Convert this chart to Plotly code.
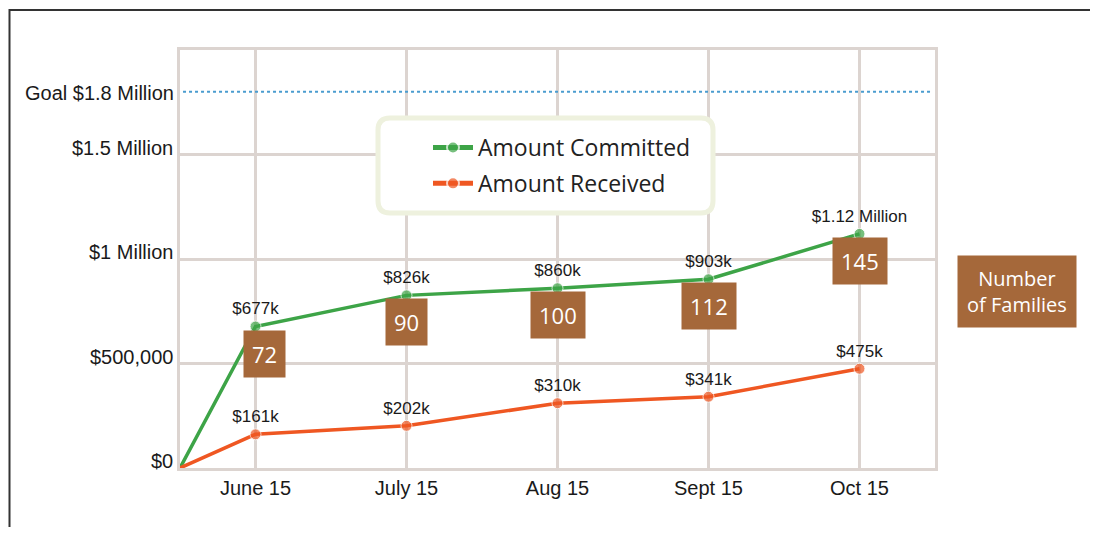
import plotly.graph_objects as go

# ---- data ----
dates = ["June 15", "July 15", "Aug 15", "Sept 15", "Oct 15"]
committed = [677000, 826000, 860000, 903000, 1120000]
received = [161000, 202000, 310000, 341000, 475000]
families = [72, 90, 100, 112, 145]
goal = 1800000
y_ticks = [0, 500000, 1000000, 1500000]
y_tick_text = ["$0", "$500,000", "$1 Million", "$1.5 Million"]

GREEN = "#3da447"
ORANGE = "#ef5722"
BROWN = "#a5683a"
GRID = "#dcd4d0"
FONT = "Liberation Sans, Arial, sans-serif"
SANS2 = "Open Sans, sans-serif"

# page body has an 8px margin; figure is sized/offset to compensate
PL, PT = 180, 50          # plot-area left/top in window pixels
PW, PH = 755, 418         # plot-area size
OFF = 8


def fmt(v):
    if v >= 1e6:
        return f"${v / 1e6:.2f} Million"
    return f"${v / 1000:.0f}k"


def px(x):
    return (x - PL) / PW


def py(y):
    return (PT + PH - y) / PH


xs = list(range(len(dates)))
start_x = -0.5

fig = go.Figure()
for name, vals, col in [("Amount Committed", committed, GREEN),
                        ("Amount Received", received, ORANGE)]:
    fig.add_trace(go.Scatter(
        x=[start_x] + xs, y=[0] + vals,
        mode="lines+markers+text",
        name=name, legendgroup=name,
        line=dict(color=col, width=3.5),
        marker=dict(color=col, size=[0] + [11] * len(vals)),
        text=[""] + [fmt(v) for v in vals],
        textposition="top center",
        textfont=dict(family=FONT, size=17, color="#1a1a1a"),
        cliponaxis=False,
    ))

shapes = []
# goal line
shapes.append(dict(type="line", xref="paper", yref="y", x0=0.004, x1=0.996,
                   y0=goal, y1=goal, line=dict(color="#4a9ccf", width=2, dash="dot"),
                   layer="above"))
# outer frame (left + top)
fx, fy = px(9.5), py(10)
shapes.append(dict(type="path", xref="paper", yref="paper",
                   path=f"M {fx},-0.3 L {fx},{fy} L 1.3,{fy}",
                   line=dict(color="#333333", width=2)))
# legend rounded box
x0, x1 = px(378), px(713)
y0, y1 = py(213), py(118)
rx, ry = 12 / PW, 12 / PH
path = (f"M {x0+rx},{y1} L {x1-rx},{y1} Q {x1},{y1} {x1},{y1-ry} "
        f"L {x1},{y0+ry} Q {x1},{y0} {x1-rx},{y0} L {x0+rx},{y0} "
        f"Q {x0},{y0} {x0},{y0+ry} L {x0},{y1-ry} Q {x0},{y1} {x0+rx},{y1} Z")
shapes.append(dict(type="path", xref="paper", yref="paper", path=path,
                   fillcolor="white", line=dict(color="#eef1de", width=5),
                   layer="above"))

annotations = []
for v, t in zip(y_ticks, y_tick_text):
    annotations.append(dict(x=0, xref="paper", y=v, yref="y", text=t,
                            xanchor="right", yanchor="middle", xshift=-5, yshift=7,
                            showarrow=False, font=dict(family=FONT, size=20, color="#1a1a1a")))
annotations.append(dict(x=0, xref="paper", y=goal, yref="y", text="Goal $1.8 Million",
                        xanchor="right", yanchor="middle", xshift=-4, yshift=-1,
                        showarrow=False, font=dict(family=FONT, size=20, color="#1a1a1a")))
for i, (v, n) in enumerate(zip(committed, families)):
    annotations.append(dict(x=xs[i], y=v, xref="x", yref="y", text=str(n),
                            showarrow=False, yanchor="top", xanchor="center",
                            xshift=9 if i == 0 else 0, yshift=-3,
                            bgcolor=BROWN, borderpad=8,
                            font=dict(family=SANS2, size=22, color="white")))
annotations.append(dict(x=px(1017), y=py(291), xref="paper", yref="paper",
                        xanchor="center", yanchor="middle",
                        text="Number<br>of Families", showarrow=False,
                        bgcolor=BROWN, borderpad=9, align="center",
                        font=dict(family=SANS2, size=20, color="white")))

fig.update_layout(
    width=1098 - 2 * OFF, height=535 - 2 * OFF,
    margin=dict(l=PL - OFF, t=PT - OFF,
                r=(1098 - 2 * OFF) - (PL - OFF) - PW,
                b=(535 - 2 * OFF) - (PT - OFF) - PH),
    paper_bgcolor="white", plot_bgcolor="white",
    showlegend=True,
    legend=dict(x=px(428), y=py(126), xanchor="left", yanchor="top",
                bgcolor="rgba(0,0,0,0)", tracegroupgap=3, itemsizing="constant",
                itemwidth=40,
                font=dict(family=SANS2, size=23, color="#222")),
    shapes=shapes, annotations=annotations,
    font=dict(family=FONT, color="#1a1a1a"),
)
fig.update_xaxes(range=[start_x, len(dates) - 0.5], tickvals=xs, ticktext=dates,
                 showgrid=True, gridcolor=GRID, gridwidth=3, zeroline=False,
                 showline=True, linecolor=GRID, linewidth=3, mirror=True,
                 ticks="", tickfont=dict(family=FONT, size=20, color="#1a1a1a"))
fig.update_yaxes(range=[0, 2000000], tickvals=y_ticks, showticklabels=False,
                 showgrid=True, gridcolor=GRID, gridwidth=3, zeroline=False,
                 showline=True, linecolor=GRID, linewidth=3, mirror=True, ticks="")

fig.write_html("out.html")
